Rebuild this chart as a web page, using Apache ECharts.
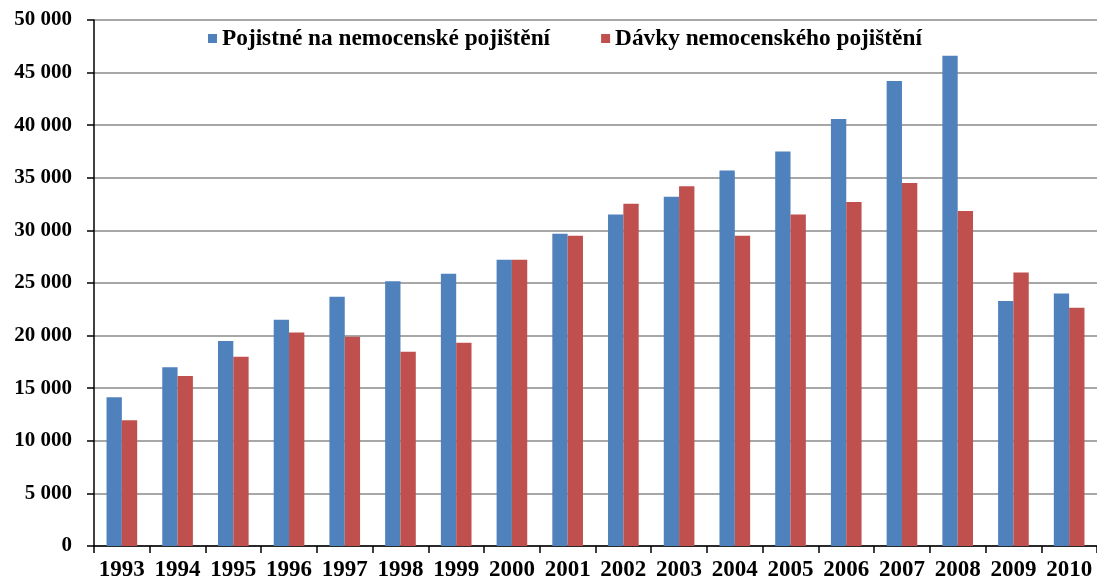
<!DOCTYPE html>
<html>
<head>
<meta charset="utf-8">
<script src="https://cdn.jsdelivr.net/npm/echarts@6/dist/echarts.min.js"></script>
<style>html,body{margin:0;padding:0;background:#fff;}#c{width:1097px;height:582px;}</style>
</head>
<body>
<div id="c"></div>
<script>
var years = ['1993','1994','1995','1996','1997','1998','1999','2000','2001','2002','2003','2004','2005','2006','2007','2008','2009','2010'];
var pojistne = [14150, 17000, 19480, 21500, 23700, 25170, 25870, 27200, 29670, 31500, 33200, 35700, 37500, 40600, 44200, 46600, 23300, 24000];
var davky = [11950, 16160, 18000, 20300, 19900, 18470, 19330, 27200, 29500, 32540, 34200, 29500, 31500, 32700, 34500, 31850, 26000, 22650];
var seriesNames = ['Pojistné na nemocenské pojištění', 'Dávky nemocenského pojištění'];

var font = '"Liberation Serif", "Times New Roman", serif';
var chart = echarts.init(document.getElementById('c'), null, {renderer: 'canvas'});
chart.setOption({
  animation: false,
  backgroundColor: '#fff',
  legend: {
    top: 22,
    left: 203,
    itemWidth: 9,
    itemHeight: 9,
    itemGap: 51,
    icon: 'rect',
    textStyle: {fontFamily: font, fontWeight: 'bold', fontSize: 23.3, color: '#000'},
    data: seriesNames
  },
  grid: {left: 94, top: 20, width: 1010, height: 527, containLabel: false},
  xAxis: {
    type: 'category',
    data: years,
    axisLine: {lineStyle: {color: '#000', width: 1.5}},
    axisTick: {show: true, length: 7, lineStyle: {color: '#000', width: 1.5}},
    axisLabel: {fontFamily: font, fontWeight: 'bold', fontSize: 23, color: '#000', margin: 13, interval: 0}
  },
  yAxis: {
    type: 'value',
    min: 0, max: 50000, interval: 5000,
    axisLine: {show: true, lineStyle: {color: '#000', width: 1.5}},
    axisTick: {show: true, length: 7, lineStyle: {color: '#000', width: 1.5}},
    splitLine: {lineStyle: {color: '#8a8a8a', width: 1.5}},
    axisLabel: {
      fontFamily: font, fontWeight: 'bold', fontSize: 21, color: '#000', margin: 22,
      formatter: function(v){ return String(v).replace(/\B(?=(\d{3})+(?!\d))/g, ' '); }
    }
  },
  series: [
    {name: seriesNames[0], type: 'bar', data: pojistne, barGap: '0%', barCategoryGap: '45%', itemStyle: {color: '#4F81BD'}},
    {name: seriesNames[1], type: 'bar', data: davky, itemStyle: {color: '#C0504D'}}
  ]
});
</script>
</body>
</html>
